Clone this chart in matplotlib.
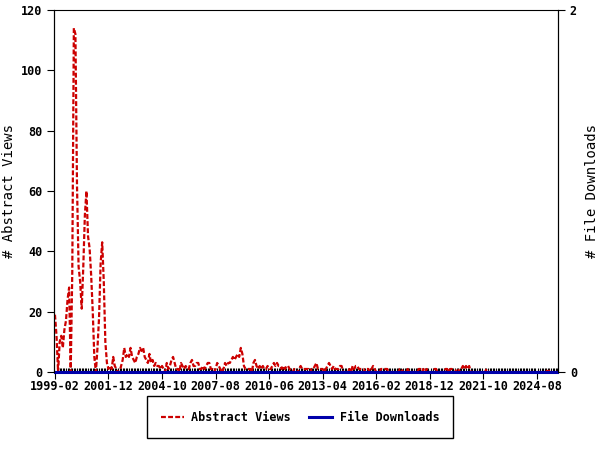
import numpy as np
from matplotlib import pyplot as plt

# monthly counts, starting 1999-02
abstract_views = [
    19, 12, 0, 10, 12, 8, 14, 17, 24, 28, 0, 33, 114, 112, 62, 35, 30, 21, 35, 52,
    60, 45, 41, 32, 20, 5, 0, 8, 18, 36, 43, 30, 10, 3, 1, 2, 1, 5, 2, 1,
    0, 0, 2, 4, 8, 5, 6, 5, 8, 5, 4, 3, 5, 6, 8, 7, 8, 5, 4, 3,
    6, 3, 4, 2, 3, 2, 2, 1, 2, 1, 0, 3, 1, 2, 4, 5, 3, 1, 1, 0,
    3, 2, 1, 2, 1, 1, 3, 4, 2, 2, 3, 3, 1, 1, 2, 1, 2, 3, 3, 1,
    1, 0, 1, 3, 2, 1, 0, 1, 3, 2, 3, 3, 4, 5, 4, 5, 6, 5, 8, 6,
    2, 1, 1, 1, 1, 0, 3, 4, 2, 1, 2, 1, 2, 1, 1, 2, 1, 1, 2, 3,
    2, 3, 2, 2, 1, 2, 1, 2, 2, 1, 0, 0, 1, 0, 0, 1, 2, 1, 1, 1,
    1, 1, 0, 1, 1, 2, 3, 1, 1, 1, 1, 0, 1, 2, 3, 2, 1, 2, 1, 1,
    1, 2, 2, 0, 0, 0, 0, 1, 0, 2, 1, 2, 2, 1, 1, 1, 1, 0, 1, 1,
    0, 1, 2, 1, 0, 0, 0, 1, 1, 1, 1, 1, 0, 0, 0, 0, 0, 0, 0, 1,
    1, 0, 0, 0, 1, 0, 0, 0, 0, 0, 0, 1, 1, 0, 1, 0, 1, 0, 0, 0,
    0, 1, 1, 0, 0, 0, 0, 0, 1, 1, 0, 1, 1, 0, 0, 1, 1, 0, 1, 2,
    1, 2, 1, 2, 0, 0, 0, 0, 0, 0, 0, 0, 0, 0, 1, 0, 0, 0, 0, 0,
    0, 0, 0, 0, 0, 0, 0, 0, 0, 0, 0, 0, 0, 0, 0, 0, 0, 0, 0, 0,
    0, 0, 0, 0, 0, 0, 0, 0, 0, 0, 0, 0, 0, 1, 0, 0, 0, 0, 0, 0,
]
file_downloads = [0] * len(abstract_views)
tick_labels = ['1999-02', '2001-12', '2004-10', '2007-08', '2010-06',
               '2013-04', '2016-02', '2018-12', '2021-10', '2024-08']

plt.rcParams['font.family'] = 'DejaVu Sans Mono'
plt.rcParams['font.weight'] = 'bold'

x = np.arange(len(abstract_views))

fig = plt.figure(figsize=(6, 4.5), dpi=100)
ax = fig.add_axes([0.09, 0.1733, 0.84, 0.8045])
ax2 = ax.twinx()
ax2.spines['bottom'].set_visible(False)
ax2.spines['top'].set_visible(False)

ax.plot(x, abstract_views, color='#cc0000', lw=1.6, dashes=(2.2, 1), label='Abstract Views', zorder=3)
ax.plot(x, file_downloads, color='#0000aa', lw=2.2, label='File Downloads', zorder=4, clip_on=False)

ax.set_xlim(-0.6, 319.4)
ax.set_ylim(0, 120)
ax.set_yticks(range(0, 121, 20))
ax.set_xticks(x[::34])
ax.set_xticklabels(tick_labels)
ax.set_xticks(x, minor=True)
ax.tick_params(axis='x', which='minor', direction='in', length=3, width=0.8, colors='black')
ax.tick_params(axis='both', which='major', direction='out', length=5, labelsize=8.5)
ax.tick_params(axis='x', which='major', pad=1)

ax2.set_ylim(0, 2)
ax2.set_yticks([0, 2])
ax2.tick_params(axis='y', direction='out', length=5, labelsize=8.5)

ax.set_ylabel('# Abstract Views', fontsize=10)
ax.yaxis.set_label_coords(-0.076, 0.5)
ax2.set_ylabel('# File Downloads', fontsize=10)
ax2.yaxis.set_label_coords(1.054, 0.5)

leg = fig.legend(loc='center', bbox_to_anchor=(0.5, 0.073), ncol=2, fontsize=8.5,
                 fancybox=False, edgecolor='black', framealpha=1, handlelength=2.0,
                 columnspacing=1.5, borderpad=1.2, handletextpad=0.6)
leg.get_frame().set_linewidth(1)

fig.savefig('out.png', dpi=100)
